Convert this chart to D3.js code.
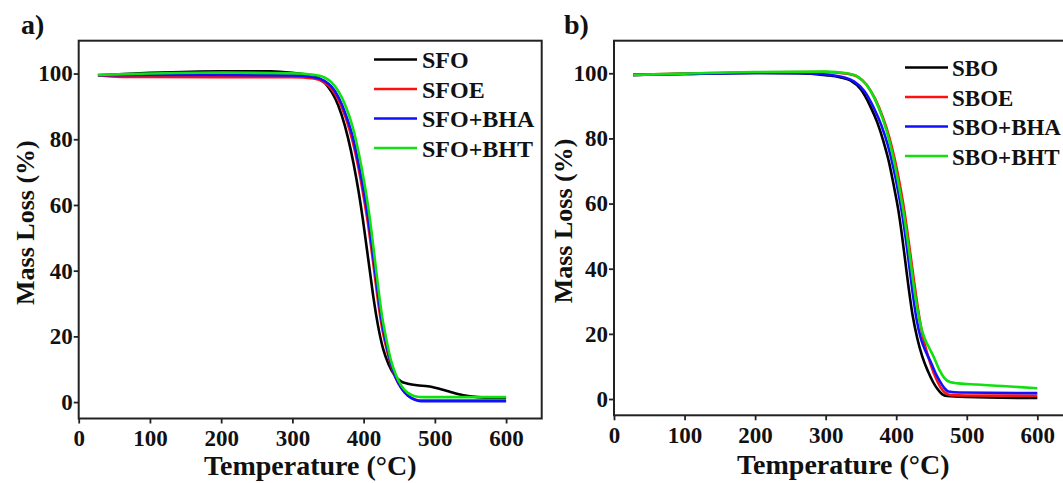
<!DOCTYPE html>
<html>
<head>
<meta charset="utf-8">
<script src="https://cdn.jsdelivr.net/npm/d3@7/dist/d3.min.js"></script>
<style>
  html, body { margin: 0; padding: 0; background: #ffffff; }
  svg { display: block; }
  text { font-family: "Liberation Serif", "Times New Roman", serif; font-weight: bold; fill: #111; }
</style>
</head>
<body>
<svg id="chart" width="1063" height="483"></svg>
<script>
// ---------- data (temperature °C, mass %) ----------
const xTicks = [0, 100, 200, 300, 400, 500, 600];
const yTicks = [0, 20, 40, 60, 80, 100];
const xDomain = [0, 650];
const yDomain = [-5, 110];

const panelLabels = ["a)", "b)"];
const seriesNamesA = ["SFO", "SFOE", "SFO+BHA", "SFO+BHT"];
const seriesNamesB = ["SBO", "SBOE", "SBO+BHA", "SBO+BHT"];
const seriesColors = ["#000000", "#ff1010", "#1010ff", "#10e010"];

const sfo = [[27,99.5],[100,100.2],[200,100.7],[270,100.7],[300,100.2],[325,99.4],[340,98.2],[350,96],[360,92.5],[369,87.5],[378,80.5],[386,72.5],[393,64],[399,55.5],[404,47.5],[409,39.5],[414,31.5],[420,23.5],[427,16.5],[435,11.5],[444,8],[453,6.2],[462,5.6],[475,5.1],[490,4.8],[505,4.1],[520,3.2],[540,2.1],[560,1.5],[580,1.3],[600,1.3]];
const sfoe = [[27,99.5],[60,99.0],[200,98.9],[300,98.9],[330,98.5],[345,97.2],[355,95.3],[365,91.8],[375,86.5],[385,79],[393,71],[400,62.5],[406,54.5],[411,46.5],[416,38],[421,29.5],[426,22.5],[432,16.5],[438,11.5],[445,7.3],[453,4.2],[462,2],[472,0.8],[480,0.5],[600,0.5]];
const sfoBha = [[27,99.5],[100,99.6],[200,99.6],[300,99.4],[330,98.9],[345,97.8],[355,96],[365,92.7],[375,87.5],[385,80.5],[393,72.5],[400,64.5],[406,56.5],[411,48.5],[416,40],[421,31.5],[426,24],[432,17.5],[438,12],[445,7.5],[453,4.3],[462,2],[472,0.7],[480,0.3],[600,0.3]];
const sfoBht = [[27,99.6],[100,100],[200,100.3],[300,100.1],[330,99.6],[345,98.8],[355,97.3],[365,94.5],[375,90],[385,83.5],[393,76],[400,68],[406,60],[411,52],[416,43],[421,34],[426,26],[432,19],[438,13],[445,8.5],[453,5],[462,2.8],[472,1.8],[485,1.5],[600,1.5]];

const sbo = [[27,99.5],[100,99.8],[200,100.1],[260,100.0],[300,99.4],[320,98.8],[335,97.8],[350,95],[363,90],[373,85],[382,79],[390,72.5],[397,65],[403,58],[408,50.5],[413,42],[418,33.5],[423,26],[430,18.5],[437,13],[445,8.5],[452,5.3],[458,3.2],[465,1.5],[472,0.9],[500,0.6],[600,0.3]];
const sboe = [[27,99.5],[100,99.9],[200,100.3],[300,100.4],[330,99.9],[345,99],[358,96.5],[370,92.2],[381,86.5],[390,80.5],[398,73.5],[405,66],[411,58.5],[416,51],[421,43],[426,35],[431,27.5],[436,21],[442,15.5],[449,10.5],[456,6.5],[463,3.5],[470,1.8],[478,1.2],[500,1.1],[600,1.0]];
const sboBha = [[27,99.5],[100,99.8],[200,100.1],[270,100.0],[305,99.5],[325,98.8],[340,97.5],[355,94.5],[368,89.5],[379,84],[388,78],[396,71],[403,63.5],[409,56],[414,48.5],[419,40],[424,31.5],[429,24.3],[435,18.5],[442,14.5],[448,11.8],[455,8.3],[462,5.4],[468,3.4],[474,2.3],[490,2.0],[600,1.8]];
const sboBht = [[27,99.5],[100,99.9],[200,100.4],[300,100.5],[330,100],[345,99],[358,96.5],[370,92],[381,86],[390,79.5],[398,72],[405,64],[411,56.5],[416,49],[421,41],[426,33],[431,26.5],[436,21.5],[441,18.3],[447,15.6],[454,12.5],[461,9],[468,6.5],[476,5.2],[488,4.8],[500,4.6],[550,4],[600,3.3]];

const xTitle = "Temperature (°C)";
const yTitle = "Mass Loss (%)";

// ---------- layout ----------
const panels = [
  { label: panelLabels[0], names: seriesNamesA, data: [sfo, sfoe, sfoBha, sfoBht],
    left: 78.7, right: 541.7, top: 40.7, bottom: 418.5,
    labelX: 21, labelY: 34, yTitleX: 34, xTitleY: 475,
    legX: 374, legY: 59.5, legFont: 24, legGap: 48 },
  { label: panelLabels[1], names: seriesNamesB, data: [sbo, sboe, sboBha, sboBht],
    left: 614, right: 1072.6, top: 40.7, bottom: 415.3,
    labelX: 564, labelY: 34, yTitleX: 572, xTitleY: 474,
    legX: 905, legY: 67.5, legFont: 23, legGap: 47 }
];

const svg = d3.select("#chart");
svg.append("rect").attr("width", 1063).attr("height", 483).attr("fill", "#fff");

panels.forEach((p, pi) => {
  const x = d3.scaleLinear().domain(xDomain).range([p.left, p.right]);
  const y = d3.scaleLinear().domain(yDomain).range([p.bottom, p.top]);
  const g = svg.append("g");

  // curves
  const line = d3.line().x(d => x(d[0])).y(d => y(d[1])).curve(d3.curveMonotoneX);
  p.data.forEach((s, i) => {
    g.append("path").datum(s).attr("d", line)
      .attr("fill", "none").attr("stroke", seriesColors[i])
      .attr("stroke-width", 2.6).attr("stroke-linejoin", "round");
  });

  // frame
  g.append("rect").attr("x", p.left).attr("y", p.top)
    .attr("width", p.right - p.left).attr("height", p.bottom - p.top)
    .attr("fill", "none").attr("stroke", "#222").attr("stroke-width", 2);

  // axes
  const xAxis = g.append("g").attr("transform", `translate(0,${p.bottom})`)
    .call(d3.axisBottom(x).tickValues(xTicks).tickFormat(d3.format("d")).tickSize(5).tickPadding(6));
  const yAxis = g.append("g").attr("transform", `translate(${p.left},0)`)
    .call(d3.axisLeft(y).tickValues(yTicks).tickFormat(d3.format("d")).tickSize(5).tickPadding(1));
  [xAxis, yAxis].forEach(a => {
    a.select(".domain").remove();
    a.selectAll(".tick line").attr("stroke", "#222").attr("stroke-width", 1.8);
    a.selectAll(".tick text").style("font-size", "23px").style("font-weight", "bold")
      .style("font-family", "'Liberation Serif', serif").attr("fill", "#111");
  });

  // titles
  g.append("text").attr("x", (p.left + p.right) / 2).attr("y", p.xTitleY)
    .attr("text-anchor", "middle").style("font-size", "28px").text(xTitle);
  g.append("text").attr("transform", `translate(${p.yTitleX},${(p.top + p.bottom) / 2 - 7}) rotate(-90)`)
    .attr("text-anchor", "middle").style("font-size", "26px").text(yTitle);
  g.append("text").attr("x", p.labelX).attr("y", p.labelY)
    .style("font-size", "28px").text(p.label);

  // legend
  p.names.forEach((n, i) => {
    const ly = p.legY + i * 29.5;
    g.append("line").attr("x1", p.legX).attr("x2", p.legX + 43)
      .attr("y1", ly).attr("y2", ly)
      .attr("stroke", seriesColors[i]).attr("stroke-width", 2.6);
    g.append("text").attr("x", p.legX + p.legGap).attr("y", ly + 8.5)
      .style("font-size", p.legFont + "px").text(n);
  });
});
</script>
</body>
</html>
